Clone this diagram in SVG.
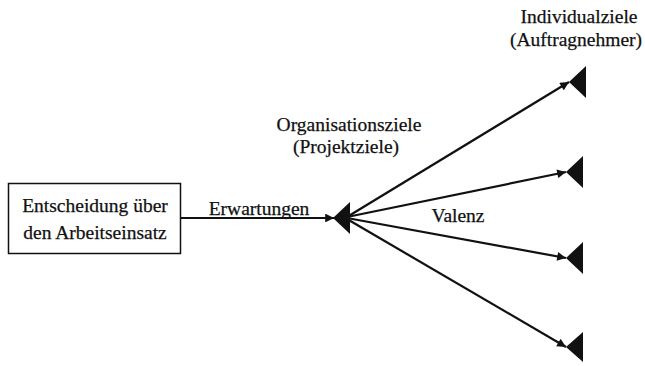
<svg xmlns="http://www.w3.org/2000/svg" width="645" height="366" viewBox="0 0 645 366">
<defs>
<style>
text{font-family:"Liberation Serif","Times New Roman",serif;font-size:19.5px;fill:#111;stroke:#111;stroke-width:0.25}
.c{text-anchor:middle}
.edge{stroke:#111;stroke-width:2.2;fill:none}
.tri{fill:#111}
</style>
<marker id="ah" viewBox="0 0 10 10" refX="10" refY="5" markerWidth="4.5" markerHeight="4" orient="auto" markerUnits="strokeWidth">
<path d="M0,0 L10,5 L0,10 Z" fill="#111"/>
</marker>
</defs>
<rect width="645" height="366" fill="#fff"/>
<g id="connectors">
<line class="edge" x1="181" y1="218" x2="334" y2="218" marker-end="url(#ah)"/>
<line class="edge" x1="347" y1="217" x2="569" y2="82" marker-end="url(#ah)"/>
<line class="edge" x1="347" y1="217" x2="566" y2="172" marker-end="url(#ah)"/>
<line class="edge" x1="347" y1="218" x2="566" y2="258" marker-end="url(#ah)"/>
<line class="edge" x1="347" y1="219" x2="566" y2="347" marker-end="url(#ah)"/>
<text x="259" y="215" class="c">Erwartungen</text>
<text x="458" y="222" class="c">Valenz</text>
</g>
<g id="decision">
<rect x="8.5" y="183.5" width="172" height="70" fill="none" stroke="#111" stroke-width="1.5"/>
<text x="95" y="212" class="c">Entscheidung über</text>
<text x="95" y="239" class="c">den Arbeitseinsatz</text>
</g>
<g id="org">
<polygon class="tri" points="333,218 350,202 350,234"/>
<text x="349" y="131" class="c">Organisationsziele</text>
<text x="346" y="153" class="c">(Projektziele)</text>
</g>
<g id="ind1">
<polygon class="tri" points="569,82 586,66 586,98"/>
<text x="579" y="23" class="c">Individualziele</text>
<text x="576" y="46" class="c">(Auftragnehmer)</text>
</g>
<g id="ind2">
<polygon class="tri" points="566,172 583,156 583,188"/>
</g>
<g id="ind3">
<polygon class="tri" points="566,258 583,242 583,274"/>
</g>
<g id="ind4">
<polygon class="tri" points="566,347 583,332 583,362"/>
</g>
</svg>
